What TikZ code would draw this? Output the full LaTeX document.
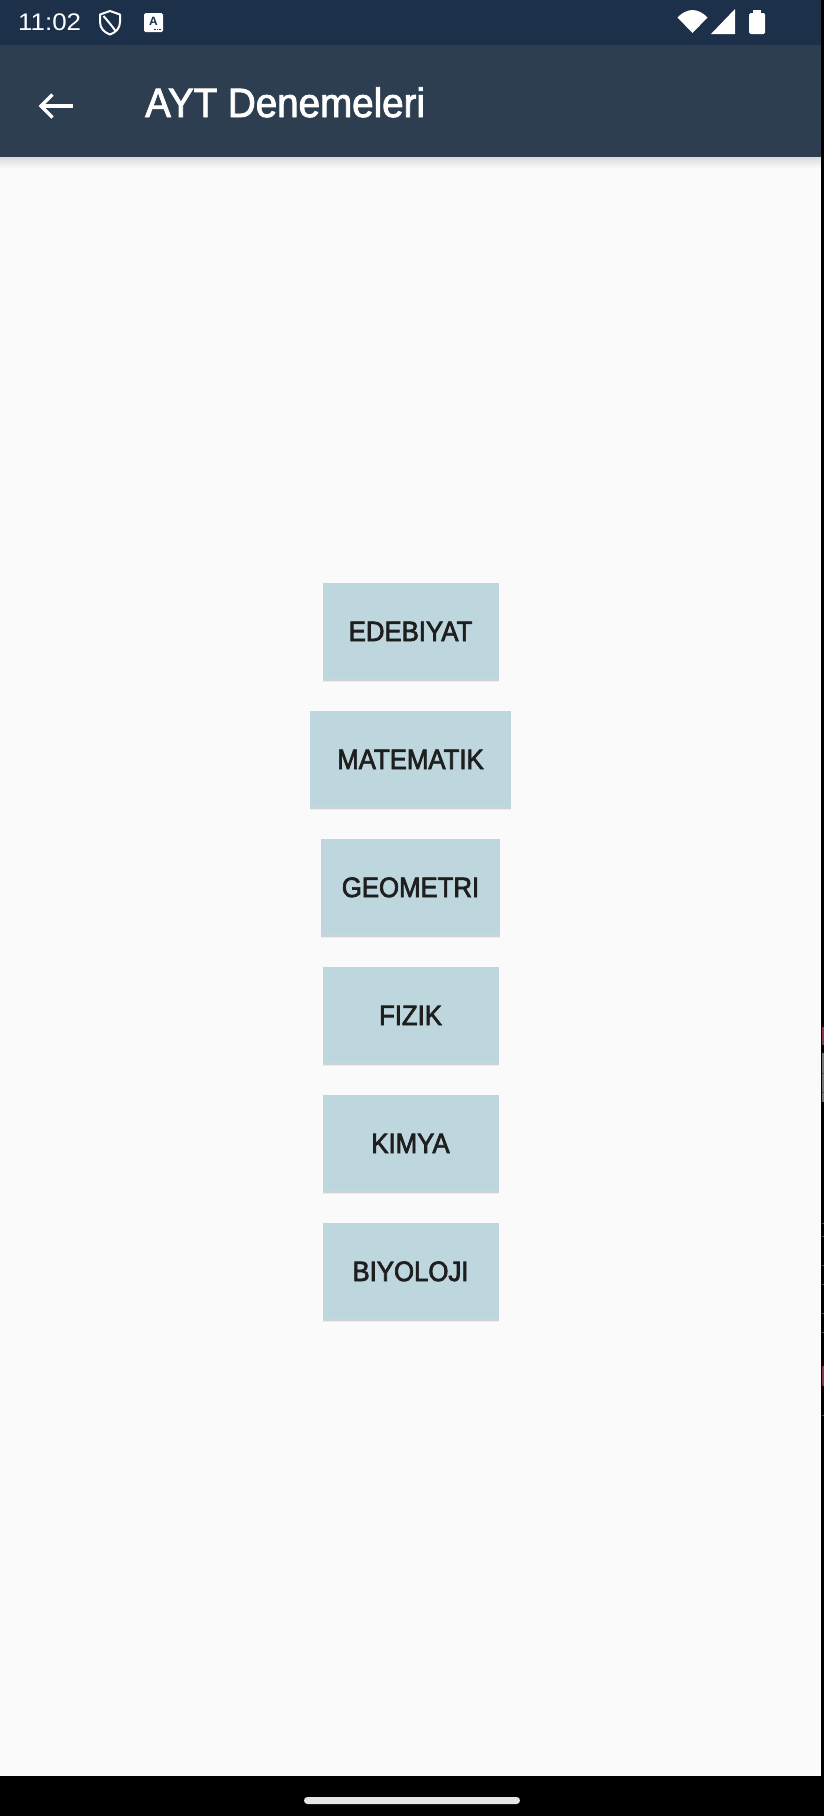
\documentclass[tikz,border=0pt]{standalone}
\usepackage{fontspec}
\setmainfont{Liberation Sans}
\newfontfamily\btnfont[FakeStretch=0.92,FakeBold=2.5]{Liberation Sans}
\newfontfamily\titlefont[FakeStretch=0.94,FakeBold=2]{Liberation Sans}
\newfontfamily\statusfont[FakeStretch=1.08]{Liberation Sans}
\usetikzlibrary{shadows}
\definecolor{bgcol}{RGB}{250,250,250}
\definecolor{statuscol}{RGB}{28,48,73}
\definecolor{barcol}{RGB}{46,62,81}
\definecolor{btncol}{RGB}{190,214,221}
\definecolor{btntext}{RGB}{30,30,30}
\definecolor{handlecol}{RGB}{230,230,230}
\definecolor{glitch}{RGB}{140,50,90}
\tikzset{
  btn/.style={fill=btncol, text=btntext,
    font=\btnfont\fontsize{28}{28}\selectfont,
    minimum width=176pt, minimum height=96pt,
    inner xsep=20.5pt, inner ysep=0pt,
    text height=20pt, text depth=0pt,
    drop shadow={shadow xshift=0pt, shadow yshift=-3pt, opacity=0.06, fill=black},
    drop shadow={shadow xshift=0pt, shadow yshift=-1.5pt, opacity=0.10, fill=black}},
  icon/.style={white, line width=2.2pt},
}
\begin{document}
\begin{tikzpicture}[x=1pt,y=-1pt]
\useasboundingbox (0,0) rectangle (824,1816);
% background
\fill[bgcol] (0,0) rectangle (824,1816);
% toolbar shadow
\shade[top color=black!14, bottom color=bgcol] (0,157) rectangle (824,168);
% status bar and toolbar
\fill[statuscol] (0,0) rectangle (824,45);
\fill[barcol] (0,45) rectangle (824,157);
% status bar content
\node[anchor=base west, inner sep=0pt, text=white,
  font=\statusfont\fontsize{24}{24}\selectfont] (clock) at (18,30) {11:02};
\draw[icon, line width=2pt, line join=round] (100,14.5) -- (110,11) -- (120,14.5) -- (120,22)
  .. controls (120,28.5) and (115.5,32.5) .. (110,34.5)
  .. controls (104.5,32.5) and (100,28.5) .. (100,22) -- cycle;
\draw[icon, line width=2pt] (103.5,16) .. controls (107,20) and (112,26) .. (116,31.5);
\fill[white, rounded corners=1.5pt] (144,13) rectangle (163,32);
\node[inner sep=0pt, text=statuscol, font=\bfseries\fontsize{12}{12}\selectfont] (aicon) at (153.5,21) {A};
\foreach \dx in {155,157.5,160}{\fill[statuscol] (\dx-0.8,28.5) rectangle (\dx+0.8,30.2);}
\fill[white] (692.5,33) -- (677.5,17.5) .. controls (682,12.5) and (688,10) .. (692.5,10)
  .. controls (697,10) and (703,12.5) .. (707.5,17.5) -- cycle;
\fill[white] (711,34) -- (735,34) -- (735,9) -- cycle;
\fill[white, rounded corners=1.5pt] (749,13) rectangle (765,34);
\fill[white] (753,10) rectangle (761,14);
% toolbar content
\draw[white, line width=3.5pt] (73,106) -- (41.5,106);
\draw[white, line width=3.5pt, line join=miter] (52.5,94.5) -- (41,106) -- (52.5,117.5);
\node[anchor=base west, inner sep=0pt, text=white,
  font=\titlefont\fontsize{41}{41}\selectfont] (title) at (145,117) {AYT Denemeleri};
% buttons
\node[btn] (edebiyat) at (410.5,631) {EDEBIYAT};
\node[btn, minimum width=201pt] (matematik) at (410.5,759) {MATEMATIK};
\node[btn] (geometri) at (410.5,887) {GEOMETRI};
\node[btn] (fizik) at (410.5,1015) {FIZIK};
\node[btn] (kimya) at (410.5,1143) {KIMYA};
\node[btn] (biyoloji) at (410.5,1271) {BIYOLOJI};
% right edge strip
\fill[black] (821,0) rectangle (824,1816);
\fill[glitch] (822,1027) rectangle (824,1045);
\fill[black!55] (822,1053) rectangle (824,1102);
\fill[glitch] (822,1366) rectangle (824,1386);
\foreach \gy in {1073,1092,1223,1236,1265,1284,1313,1332,1415}{\fill[glitch] (822,\gy) rectangle (824,\gy+1.2);}
% navigation bar
\fill[black] (0,1776) rectangle (824,1816);
\fill[handlecol, rounded corners=3.5pt] (304,1797) rectangle (520,1804);
\end{tikzpicture}
\end{document}
